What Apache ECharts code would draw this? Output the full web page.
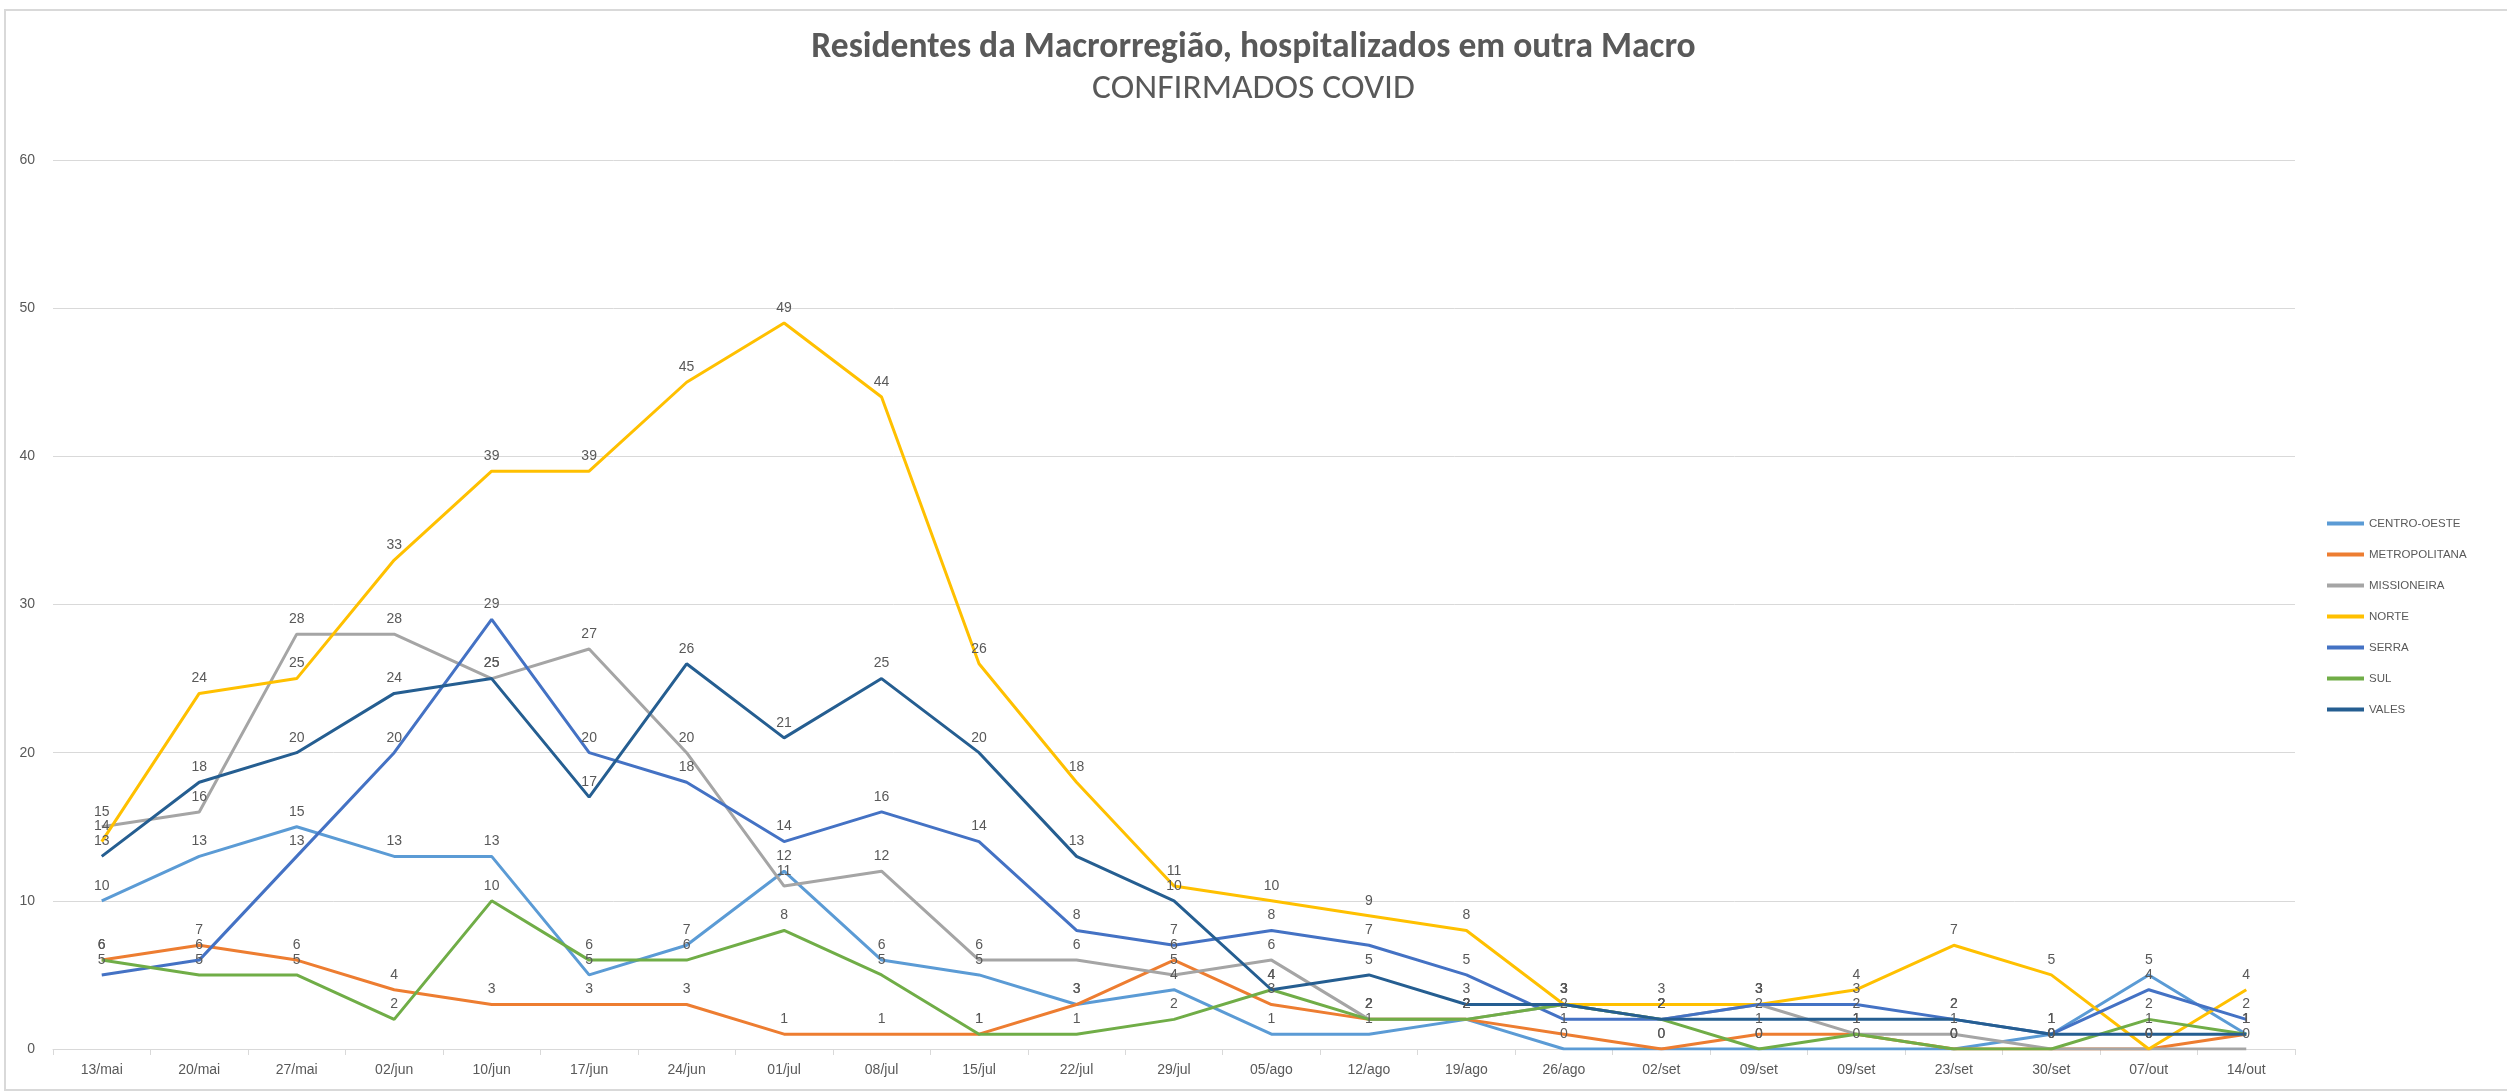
<!DOCTYPE html>
<html>
<head>
<meta charset="utf-8">
<script src="https://cdn.jsdelivr.net/npm/echarts@6/dist/echarts.min.js"></script>
<style>
html,body{margin:0;padding:0;background:#fff;}
#c{width:2507px;height:1091px;}
</style>
</head>
<body>
<div id="c"></div>
<script>
const categories = ['13/mai','20/mai','27/mai','02/jun','10/jun','17/jun','24/jun','01/jul','08/jul','15/jul','22/jul','29/jul','05/ago','12/ago','19/ago','26/ago','02/set','09/set','09/set','23/set','30/set','07/out','14/out'];
const centroOeste  = [10,13,15,13,13,5,7,12,6,5,3,4,1,1,2,0,0,0,0,0,1,5,1];
const metropolitana = [6,7,6,4,3,3,3,1,1,1,3,6,3,2,2,1,0,1,1,0,0,0,1];
const missioneira  = [15,16,28,28,25,27,20,11,12,6,6,5,6,2,2,3,2,3,1,1,0,0,0];
const norte        = [14,24,25,33,39,39,45,49,44,26,18,11,10,9,8,3,3,3,4,7,5,0,4];
const serra        = [5,6,13,20,29,20,18,14,16,14,8,7,8,7,5,2,2,3,3,2,1,4,2];
const sul          = [6,5,5,2,10,6,6,8,5,1,1,2,4,2,2,3,2,0,1,0,0,2,1];
const vales        = [13,18,20,24,25,17,26,21,25,20,13,10,4,5,3,3,2,2,2,2,1,1,1];
const yTicks = [0,10,20,30,40,50,60];

const seriesDefs = [
  ['CENTRO-OESTE', centroOeste, '#5B9BD5'],
  ['METROPOLITANA', metropolitana, '#ED7D31'],
  ['MISSIONEIRA', missioneira, '#A5A5A5'],
  ['NORTE', norte, '#FFC000'],
  ['SERRA', serra, '#4472C4'],
  ['SUL', sul, '#70AD47'],
  ['VALES', vales, '#255E91']
];

const FONT = "Carlito, 'Liberation Sans Narrow', 'Liberation Sans', sans-serif";
const chart = echarts.init(document.getElementById('c'), null, {renderer:'canvas'});
chart.setOption({
  backgroundColor:'#ffffff',
  animation:false,
  title:[
    {text:'Residentes da Macrorregião, hospitalizados em outra Macro', left:'center', top:25,
     textStyle:{fontFamily:FONT, fontSize:35.5, fontWeight:'bold', color:'#595959'}},
    {text:'CONFIRMADOS COVID', left:'center', top:66,
     textStyle:{fontFamily:FONT, fontSize:35.5, fontWeight:'normal', color:'#595959'}}
  ],
  graphic:[{type:'rect', shape:{x:5, y:10, width:2600, height:1080}, style:{fill:'none', stroke:'#D9D9D9', lineWidth:2}, silent:true}],
  legend:{
    orient:'vertical', left:2327, top:516, padding:0,
    icon:'rect', itemWidth:37, itemHeight:4, itemGap:16,
    textStyle:{fontFamily:"'Liberation Sans', sans-serif", fontSize:11.5, color:'#595959', lineHeight:15},
    data: seriesDefs.map(d=>d[0])
  },
  grid:{left:53, right:212, top:160, bottom:42},
  xAxis:{
    type:'category', data:categories, boundaryGap:true,
    axisLine:{lineStyle:{color:'#D9D9D9', width:1}},
    axisTick:{show:true, length:6, lineStyle:{color:'#D9D9D9'}},
    axisLabel:{fontFamily:"'Liberation Sans', sans-serif", fontSize:14, color:'#595959', margin:14},
    splitLine:{show:false}
  },
  yAxis:{
    type:'value', min:yTicks[0], max:yTicks[yTicks.length-1], interval:10,
    axisLine:{show:false}, axisTick:{show:false},
    axisLabel:{fontFamily:"'Liberation Sans', sans-serif", fontSize:14, color:'#595959', margin:18},
    splitLine:{lineStyle:{color:'#D9D9D9', width:1}}
  },
  series: seriesDefs.map(([name, data, color]) => ({
    name, type:'line', data, symbol:'circle', symbolSize:0.01, showSymbol:true, smooth:false,
    lineStyle:{color, width:3}, itemStyle:{color},
    labelLayout:{hideOverlap:false},
    label:{show:true, position:'top', distance:8, fontFamily:"'Liberation Sans', sans-serif", fontSize:14, color:'#595959'}
  }))
});
</script>
</body>
</html>
